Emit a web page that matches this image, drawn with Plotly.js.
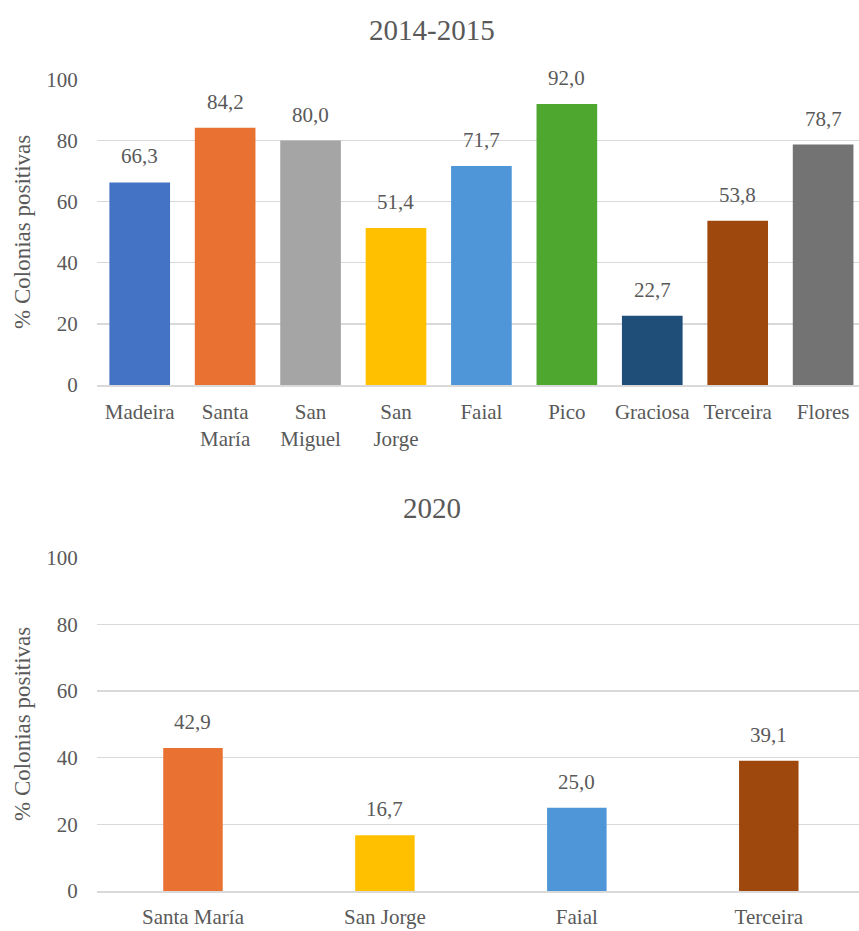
<!DOCTYPE html>
<html>
<head>
<meta charset="utf-8">
<script src="https://cdn.plot.ly/plotly-3.0.1.min.js"></script>
<style>
  html, body { margin: 0; padding: 0; background: #ffffff; }
  #chart { width: 859px; height: 931px; }
</style>
</head>
<body>
<div id="chart"></div>
<script>
// Islands sampled in 2014-2015 and their share of positive colonies (%)
const islands2015 = ['Madeira', 'Santa<br>María', 'San<br>Miguel', 'San<br>Jorge', 'Faial', 'Pico', 'Graciosa', 'Terceira', 'Flores'];
const values2015 = [66.3, 84.2, 80.0, 51.4, 71.7, 92.0, 22.7, 53.8, 78.7];
const colors2015 = ['#4472C4', '#E97132', '#A5A5A5', '#FFC000', '#4F96D8', '#4EA72E', '#1F4E79', '#9E480E', '#737373'];

// Islands sampled in 2020
const islands2020 = ['Santa María', 'San Jorge', 'Faial', 'Terceira'];
const values2020 = [42.9, 16.7, 25.0, 39.1];
const colors2020 = ['#E97132', '#FFC000', '#4F96D8', '#9E480E'];

const yTicks = [0, 20, 40, 60, 80, 100];
const titles = ['2014-2015', '2020'];
const yTitle = '% Colonias positivas';

const W = 859, H = 931;
const FONT = 'Liberation Serif';
const GREY = '#595959';
const GRID = '#D9D9D9';

const fmt = v => v.toFixed(1).replace('.', ',');

const traces = [
  {
    type: 'bar', x: islands2015, y: values2015,
    marker: { color: colors2015 },
    xaxis: 'x', yaxis: 'y', hoverinfo: 'skip'
  },
  {
    type: 'bar', x: islands2020, y: values2020,
    marker: { color: colors2020 },
    width: islands2020.map(() => 0.31),
    xaxis: 'x2', yaxis: 'y2', hoverinfo: 'skip'
  }
];

// value labels above each bar
const annotations = [];
islands2015.forEach((c, i) => annotations.push({
  xref: 'x', yref: 'y', x: c, y: values2015[i], text: fmt(values2015[i]),
  showarrow: false, yanchor: 'bottom', yshift: 12,
  font: { family: FONT, size: 21, color: GREY }
}));
islands2020.forEach((c, i) => annotations.push({
  xref: 'x2', yref: 'y2', x: c, y: values2020[i], text: fmt(values2020[i]),
  showarrow: false, yanchor: 'bottom', yshift: 12,
  font: { family: FONT, size: 21, color: GREY }
}));

// chart titles
annotations.push({
  xref: 'paper', yref: 'paper', x: 432 / W, y: 1 - 30 / H, text: titles[0],
  showarrow: false, xanchor: 'center', yanchor: 'middle',
  font: { family: FONT, size: 29, color: GREY }
});
annotations.push({
  xref: 'paper', yref: 'paper', x: 432 / W, y: 1 - 508 / H, text: titles[1],
  showarrow: false, xanchor: 'center', yanchor: 'middle',
  font: { family: FONT, size: 29, color: GREY }
});

// y axis titles
[232, 724].forEach(py => annotations.push({
  xref: 'paper', yref: 'paper', x: 22 / W, y: 1 - py / H, text: yTitle,
  showarrow: false, textangle: -90, xanchor: 'center', yanchor: 'middle',
  font: { family: FONT, size: 23, color: GREY }
}));

// invisible tick marks keep the value labels clear of the plot edge
const yAxisBase = {
  range: [0, 100], tickvals: yTicks, ticktext: yTicks.map(String),
  showgrid: true, gridcolor: GRID, gridwidth: 1.3,
  zeroline: false, showline: false,
  ticks: 'outside', ticklen: 14, tickcolor: 'rgba(0,0,0,0)',
  tickfont: { family: FONT, size: 21, color: GREY },
  automargin: false, fixedrange: true
};
const xAxisBase = {
  showgrid: false, zeroline: false, showline: true, linecolor: GRID, linewidth: 1.5,
  ticks: '', tickfont: { family: FONT, size: 21, color: GREY },
  automargin: false, fixedrange: true, type: 'category'
};

const layout = {
  width: W, height: H,
  margin: { l: 0, r: 0, t: 0, b: 0 },
  paper_bgcolor: '#ffffff', plot_bgcolor: '#ffffff',
  showlegend: false,
  bargap: 0.29,
  font: { family: FONT, color: GREY },
  xaxis: Object.assign({}, xAxisBase, {
    domain: [97 / W, 1], anchor: 'y', range: [-0.5, 8.42], ticklabelstandoff: 7
  }),
  yaxis: Object.assign({}, yAxisBase, {
    domain: [1 - 385 / H, 1 - 79.5 / H], anchor: 'x'
  }),
  xaxis2: Object.assign({}, xAxisBase, {
    domain: [97 / W, 1], anchor: 'y2', range: [-0.5, 3.47], ticklabelstandoff: 6
  }),
  yaxis2: Object.assign({}, yAxisBase, {
    domain: [1 - 891 / H, 1 - 557.7 / H], anchor: 'x2'
  }),
  annotations: annotations
};

Plotly.newPlot('chart', traces, layout, { displayModeBar: false, staticPlot: true });
</script>
</body>
</html>
